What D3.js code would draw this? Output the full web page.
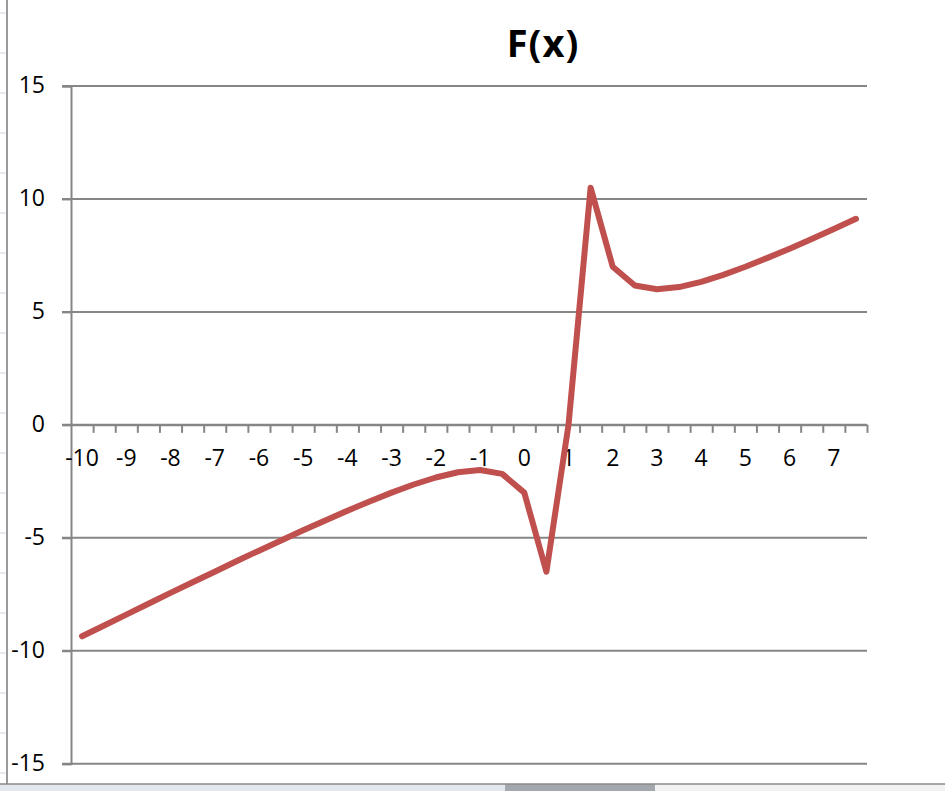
<!DOCTYPE html>
<html>
<head>
<meta charset="utf-8">
<script src="https://cdn.jsdelivr.net/npm/d3@7/dist/d3.min.js"></script>
<style>
  html, body { margin: 0; padding: 0; background: #fff; }
  svg { display: block; }
</style>
</head>
<body>
<svg id="chart" width="945" height="791"></svg>
<script>
// ---- data ----
const categories = [-10, -9.5, -9, -8.5, -8, -7.5, -7, -6.5, -6, -5.5, -5, -4.5, -4, -3.5, -3, -2.5, -2, -1.5, -1, -0.5,
                    0, 0.5, 1, 1.5, 2, 2.5, 3, 3.5, 4, 4.5, 5, 5.5, 6, 6.5, 7, 7.5];
const values = [-9.36, -8.88, -8.4, -7.92, -7.44, -6.97, -6.5, -6.03, -5.57, -5.12, -4.67, -4.23, -3.8, -3.39, -3.0, -2.64, -2.33, -2.1, -2.0, -2.17,
                -3.0, -6.5, 0, 10.5, 7.0, 6.17, 6.0, 6.1, 6.33, 6.64, 7.0, 7.39, 7.8, 8.23, 8.67, 9.12];
const yTicks = [-15, -10, -5, 0, 5, 10, 15];
const chartTitle = "F(x)";

(function () {
const svg = d3.select("#chart");
const W = 945;
const pLeft = 71, pRight = 867, pTop = 86, pBottom = 763.7;
const gridColor = "#868686";
const font = "'Open Sans', 'Liberation Sans', sans-serif";

// spreadsheet remnants (left column edge, row lines, bottom tab bar)
const rowLines = d3.range(13, 784, 40);
svg.selectAll("line.row").data(rowLines).enter().append("line")
  .attr("x1", 0).attr("x2", 6).attr("y1", d => d).attr("y2", d => d)
  .attr("stroke", "#d0d7e5").attr("stroke-width", 1);
svg.append("line").attr("x1", 7).attr("x2", 7).attr("y1", 0).attr("y2", 784)
  .attr("stroke", "#9a9a9a").attr("stroke-width", 2);
svg.append("rect").attr("x", 0).attr("y", 784).attr("width", 505).attr("height", 7).attr("fill", "#e3e8ef");
svg.append("rect").attr("x", 505).attr("y", 784).attr("width", 150).attr("height", 7).attr("fill", "#a3a8ae");
svg.append("rect").attr("x", 655).attr("y", 784).attr("width", 290).attr("height", 7).attr("fill", "#f2f2f2");
svg.append("line").attr("x1", 0).attr("x2", W).attr("y1", 784).attr("y2", 784)
  .attr("stroke", "#8a8a8a").attr("stroke-width", 1.5);

// scales
const x = d3.scaleBand().domain(categories.map(String)).range([pLeft, pRight]).padding(0);
const xIdx = d3.scaleLinear().domain([0, categories.length]).range([pLeft, pRight]);
const y = d3.scaleLinear().domain([-15, 15]).range([pBottom, pTop]);

// horizontal gridlines
svg.append("g").selectAll("line").data(yTicks).enter().append("line")
  .attr("x1", 62).attr("x2", pRight)
  .attr("y1", d => y(d)).attr("y2", d => y(d))
  .attr("stroke", gridColor).attr("stroke-width", 2);

// y axis
const yAxis = svg.append("g").attr("transform", `translate(${pLeft},0)`)
  .call(d3.axisLeft(y).tickValues(yTicks).tickSize(9).tickPadding(17).tickFormat(d => String(d)));
yAxis.select(".domain").attr("stroke", gridColor).attr("stroke-width", 2);
yAxis.selectAll(".tick line").attr("stroke", gridColor).attr("stroke-width", 2);
yAxis.selectAll("text").attr("font-family", font).attr("font-size", 23).attr("fill", "#000")
  .attr("dy", "0.3em");

// x axis: tick marks at category boundaries
const xTickAxis = svg.append("g").attr("transform", `translate(0,${y(0)})`)
  .call(d3.axisBottom(xIdx).tickValues(d3.range(1, categories.length + 1)).tickSize(8).tickFormat(""));
xTickAxis.select(".domain").remove();
xTickAxis.selectAll(".tick line").attr("stroke", gridColor).attr("stroke-width", 2);

// x axis line + labels at category centres
const xAxis = svg.append("g").attr("transform", `translate(0,${y(0)})`)
  .call(d3.axisBottom(x).tickSize(0).tickPadding(25)
    .tickFormat(d => Number.isInteger(+d) ? d : ""));
xAxis.select(".domain").attr("stroke", gridColor).attr("stroke-width", 2);
xAxis.selectAll("text").attr("font-family", font).attr("font-size", 23).attr("fill", "#000");

// series line
const line = d3.line()
  .x((d, i) => x(String(categories[i])) + x.bandwidth() / 2)
  .y(d => y(d));
svg.append("path").datum(values)
  .attr("d", line)
  .attr("fill", "none")
  .attr("stroke", "#C0504D")
  .attr("stroke-width", 6)
  .attr("stroke-linejoin", "round")
  .attr("stroke-linecap", "round");

// title
svg.append("text").attr("x", 543).attr("y", 57)
  .attr("text-anchor", "middle")
  .attr("font-family", font).attr("font-weight", "bold").attr("font-size", 38)
  .attr("letter-spacing", 1)
  .attr("fill", "#000").text(chartTitle);
})();
</script>
</body>
</html>
